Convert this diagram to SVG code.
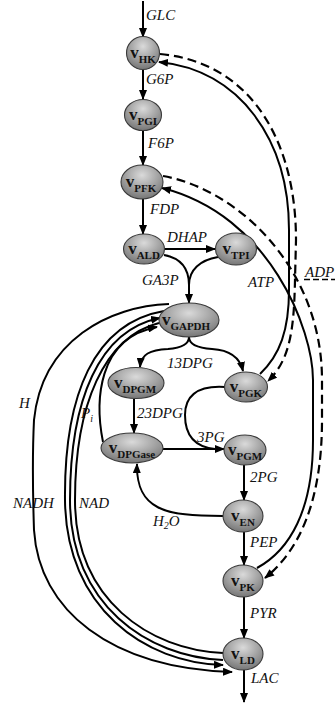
<svg xmlns="http://www.w3.org/2000/svg" width="335" height="704" viewBox="0 0 335 704">
  <style>
    .ln { fill: none; stroke: #000; stroke-width: 2; }
    .dl { fill: none; stroke: #000; stroke-width: 2.2; stroke-dasharray: 9 5; }
    .nd { fill: url(#shade); stroke: #3a3a3a; stroke-width: 1.1; }
    .lbl { font-family: "Liberation Serif", "Times New Roman", serif; font-style: italic; font-size: 15px; fill: #111; }
    .nm { font-family: "Liberation Serif", "Times New Roman", serif; font-weight: bold; font-size: 17px; fill: #111; text-anchor: middle; }
    .sb { font-size: 11px; }
  </style>
  <defs>
    <radialGradient id="shade" cx="50%" cy="30%" r="70%">
      <stop offset="0" stop-color="#dadada"/>
      <stop offset="1" stop-color="#767676"/>
    </radialGradient>
    <marker id="ah" viewBox="0 0 10 8" refX="9" refY="4" markerWidth="10" markerHeight="8" orient="auto" markerUnits="userSpaceOnUse">
      <path d="M0,0 L10,4 L0,8 z" fill="#000"/>
    </marker>
  </defs>

  <!-- connectors -->
  <g id="connectors">
    <!-- main chain, upper part -->
    <path class="ln" d="M143,1 L143,37" marker-end="url(#ah)"/>
    <path class="ln" d="M143,70 L143,99" marker-end="url(#ah)"/>
    <path class="ln" d="M143,131 L143,165" marker-end="url(#ah)"/>
    <path class="ln" d="M143,199 L143,234" marker-end="url(#ah)"/>
    <path class="ln" d="M164,249 L215,249" marker-end="url(#ah)"/>
    <!-- ALD and TPI to GAPDH -->
    <path class="ln" d="M164,255 C180,258 189,268 189,285 L189,303" marker-end="url(#ah)"/>
    <path class="ln" d="M218,257 C200,260 189,270 189,285"/>
    <!-- GAPDH split to DPGM and PGK -->
    <path class="ln" d="M189,337 C189,345 180,348 168,349 C150,350 141,354 140,367" marker-end="url(#ah)"/>
    <path class="ln" d="M189,337 C189,345 198,348 212,349 C230,350 240,358 243,371" marker-end="url(#ah)"/>
    <!-- DPGM to DPGase, DPGase to PGM, PGK to PGM -->
    <path class="ln" d="M134,399 L134,433" marker-end="url(#ah)"/>
    <path class="ln" d="M163,449 L224,449" marker-end="url(#ah)"/>
    <path class="ln" d="M225,387 C195,385 185,398 185,415 C185,435 195,447 215,449"/>
    <!-- lower chain -->
    <path class="ln" d="M244,465 L244,500" marker-end="url(#ah)"/>
    <path class="ln" d="M244,532 L244,565" marker-end="url(#ah)"/>
    <path class="ln" d="M244,597 L244,638" marker-end="url(#ah)"/>
    <path class="ln" d="M244,670 L244,702" marker-end="url(#ah)"/>
    <!-- EN back to DPGase (water) -->
    <path class="ln" d="M223,516 C165,516 136,510 137,464" marker-end="url(#ah)"/>

    <!-- ATP / ADP loops -->
    <path class="ln" d="M260,374 C280,355 289,330 289,290 L289,230 C289,140 240,70 159,62" marker-end="url(#ah)"/>
    <path class="dl" d="M160,54 C250,62 296,140 296,240 L295,280 C294,330 290,360 268,381" marker-end="url(#ah)"/>
    <path class="ln" d="M257,568 C290,550 313,510 313,440 L313,380 C313,330 270,215 162,188" marker-end="url(#ah)"/>
    <path class="dl" d="M163,176 C240,190 322,270 322,380 L322,420 C322,500 300,550 265,578" marker-end="url(#ah)"/>
    <path class="dl" d="M304,279.5 L335,279.5" style="stroke-width:1.4; stroke-dasharray:6 3"/>

    <!-- cofactor arcs between GAPDH and LD -->
    <path class="ln" d="M169,304 C110,306 42,340 34,420 C32,460 33,500 34,530 C39,610 110,668 232,672" marker-end="url(#ah)"/>
    <path class="ln" d="M164,311 C94,323 64,395 65,500 C66,608 145,663 223,665" marker-end="url(#ah)"/>
    <path class="ln" d="M223,660 C148,657 70,605 70,500 C70,400 99,330 160,318" marker-end="url(#ah)"/>
    <path class="ln" d="M223,653 C150,650 75,600 75,500 C75,405 104,337 159,323"/>
    <path class="ln" d="M103,442 C95,402 97,338 157,327" marker-end="url(#ah)"/>
  </g>

  <!-- nodes -->
  <g id="HK"><ellipse class="nd" cx="143" cy="53" rx="16.5" ry="16.5"/><text class="nm" x="143" y="58">v<tspan class="sb" dy="5">HK</tspan></text></g>
  <g id="PGI"><ellipse class="nd" cx="143" cy="115" rx="18.5" ry="15.5"/><text class="nm" x="143" y="120">v<tspan class="sb" dy="5">PGI</tspan></text></g>
  <g id="PFK"><ellipse class="nd" cx="142" cy="182" rx="21" ry="17"/><text class="nm" x="141" y="187">v<tspan class="sb" dy="5">PFK</tspan></text></g>
  <g id="ALD"><ellipse class="nd" cx="144" cy="249" rx="20.5" ry="15"/><text class="nm" x="144" y="254">v<tspan class="sb" dy="5">ALD</tspan></text></g>
  <g id="TPI"><ellipse class="nd" cx="236" cy="249" rx="20.5" ry="16"/><text class="nm" x="236" y="254">v<tspan class="sb" dy="5">TPI</tspan></text></g>
  <g id="GAPDH"><ellipse class="nd" cx="189" cy="320" rx="30" ry="17"/><text class="nm" x="186" y="325">v<tspan class="sb" dy="5">GAPDH</tspan></text></g>
  <g id="DPGM"><ellipse class="nd" cx="136" cy="383" rx="28" ry="15.5"/><text class="nm" x="135" y="388">v<tspan class="sb" dy="5">DPGM</tspan></text></g>
  <g id="PGK"><ellipse class="nd" cx="246" cy="387" rx="21.5" ry="15"/><text class="nm" x="246" y="392">v<tspan class="sb" dy="5">PGK</tspan></text></g>
  <g id="DPGase"><ellipse class="nd" cx="132" cy="448" rx="31" ry="15"/><text class="nm" x="132" y="453">v<tspan class="sb" dy="5">DPGase</tspan></text></g>
  <g id="PGM"><ellipse class="nd" cx="245" cy="450" rx="21" ry="15"/><text class="nm" x="245" y="455">v<tspan class="sb" dy="5">PGM</tspan></text></g>
  <g id="EN"><ellipse class="nd" cx="243" cy="516" rx="20" ry="16"/><text class="nm" x="243" y="521">v<tspan class="sb" dy="5">EN</tspan></text></g>
  <g id="PK"><ellipse class="nd" cx="243" cy="581" rx="20" ry="16"/><text class="nm" x="243" y="586">v<tspan class="sb" dy="5">PK</tspan></text></g>
  <g id="LD"><ellipse class="nd" cx="243" cy="654" rx="20" ry="16"/><text class="nm" x="243" y="659">v<tspan class="sb" dy="5">LD</tspan></text></g>

  <!-- metabolite labels -->
  <g id="labels">
    <text class="lbl" x="146" y="20">GLC</text>
    <text class="lbl" x="146" y="84">G6P</text>
    <text class="lbl" x="148" y="148">F6P</text>
    <text class="lbl" x="150" y="214">FDP</text>
    <text class="lbl" x="167" y="242">DHAP</text>
    <text class="lbl" x="142" y="285">GA3P</text>
    <text class="lbl" x="248" y="287">ATP</text>
    <text class="lbl" x="305" y="277">ADP</text>
    <text class="lbl" x="167" y="368">13DPG</text>
    <text class="lbl" x="137" y="418">23DPG</text>
    <text class="lbl" x="197" y="442">3PG</text>
    <text class="lbl" x="250" y="482">2PG</text>
    <text class="lbl" x="153" y="526">H<tspan font-size="10" dy="3">2</tspan><tspan dy="-3">O</tspan></text>
    <text class="lbl" x="250" y="547">PEP</text>
    <text class="lbl" x="250" y="618">PYR</text>
    <text class="lbl" x="251" y="683">LAC</text>
    <text class="lbl" x="13" y="508">NADH</text>
    <text class="lbl" x="79" y="508">NAD</text>
    <text class="lbl" x="19" y="408">H</text>
    <text class="lbl" x="81" y="418">P<tspan font-size="10" dy="4">i</tspan></text>
  </g>
</svg>
